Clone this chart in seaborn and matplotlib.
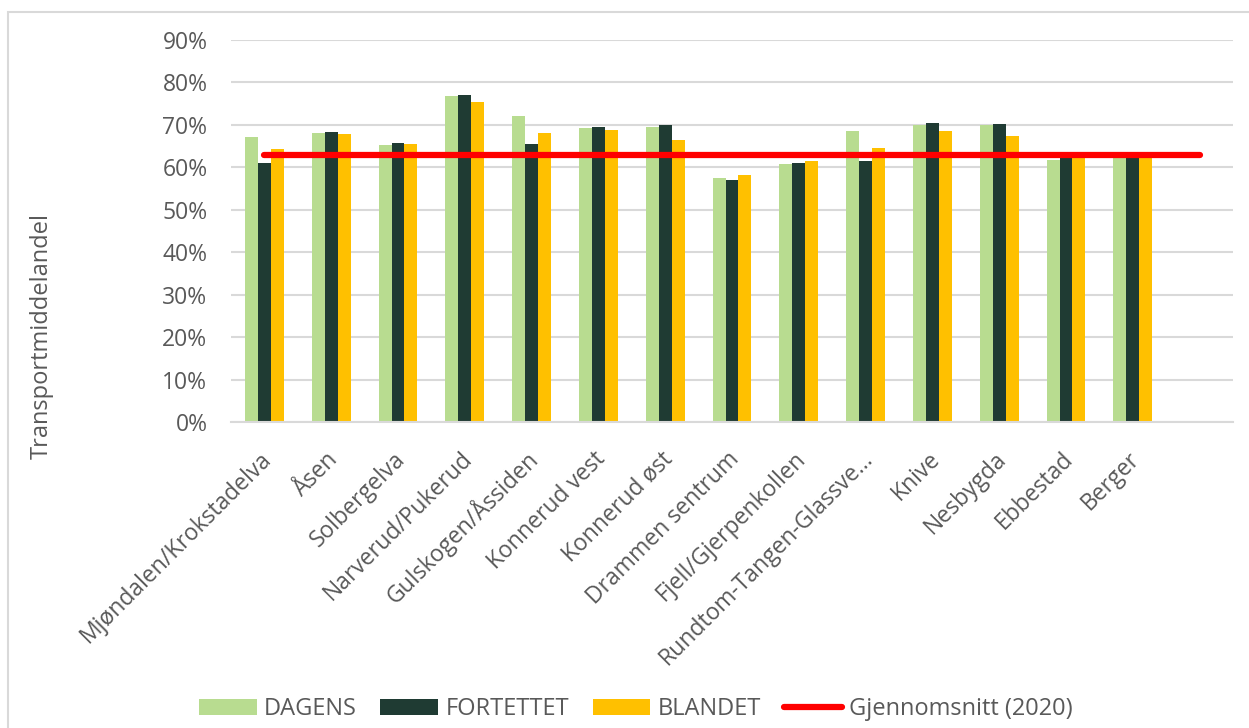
import numpy as np
import pandas as pd
import matplotlib
matplotlib.use("Agg")
import matplotlib.pyplot as plt
import matplotlib.transforms as mtransforms
import seaborn as sns
from matplotlib.patches import Rectangle
from matplotlib.ticker import PercentFormatter

categories = [
    "Mjøndalen/Krokstadelva", "Åsen", "Solbergelva", "Narverud/Pukerud",
    "Gulskogen/Åssiden", "Konnerud vest", "Konnerud øst", "Drammen sentrum",
    "Fjell/Gjerpenkollen", "Rundtom-Tangen-Glassve...", "Knive", "Nesbygda",
    "Ebbestad", "Berger",
]
# Excel keeps one empty slot at the end of the category axis
empty_slot = " "

dagens = [0.672, 0.681, 0.653, 0.768, 0.721, 0.693, 0.695, 0.576, 0.607, 0.686, 0.700, 0.700, 0.618, 0.628]
fortettet = [0.611, 0.684, 0.658, 0.770, 0.656, 0.695, 0.700, 0.569, 0.611, 0.616, 0.705, 0.703, 0.623, 0.635]
blandet = [0.644, 0.679, 0.656, 0.754, 0.681, 0.689, 0.665, 0.581, 0.614, 0.646, 0.686, 0.674, 0.625, 0.628]
gjennomsnitt = 0.628

series_names = ["DAGENS", "FORTETTET", "BLANDET"]
series_colors = ["#b8dc90", "#1f3b33", "#ffc000"]
avg_label = "Gjennomsnitt (2020)"
avg_color = "#ff0000"
text_color = "#595959"
grid_color = "#d9d9d9"

df = pd.DataFrame({
    "omrade": categories * 3,
    "serie": np.repeat(series_names, len(categories)),
    "andel": dagens + fortettet + blandet,
})
order = categories + [empty_slot]

sns.set_theme(style="white")
plt.rcParams["font.family"] = ["Open Sans", "DejaVu Sans"]

fig = plt.figure(figsize=(12.49, 7.28), dpi=100)
ax = fig.add_axes([231 / 1249, 1 - 422 / 728, (1233 - 231) / 1249, (422 - 40) / 728])

sns.barplot(data=df, x="omrade", y="andel", hue="serie", order=order,
            hue_order=series_names, palette=series_colors, width=0.58,
            gap=0, saturation=1, errorbar=None, linewidth=0, ax=ax,
            legend=False)

line_x = [0, len(order) - 1]
ax.plot(line_x, [gjennomsnitt, gjennomsnitt], color=avg_color, lw=4.5,
        solid_capstyle="round", zorder=5)

ax.set_xlim(-0.5, len(order) - 0.5)
ax.set_ylim(0, 0.9)
ax.set_yticks(np.arange(0, 0.91, 0.1))
ax.yaxis.set_major_formatter(PercentFormatter(1.0, decimals=0))
ax.grid(axis="y", color=grid_color, lw=1.5)
ax.set_axisbelow(True)
for side in ["top", "right", "left"]:
    ax.spines[side].set_visible(False)
ax.spines["bottom"].set_color(grid_color)
ax.spines["bottom"].set_linewidth(1.5)

ax.tick_params(axis="y", length=0, pad=17, labelsize=16.5, labelcolor=text_color)
ax.tick_params(axis="x", length=0, pad=0, labelsize=16.5, labelcolor=text_color)
ax.set_xticks(range(len(order)))
ax.set_xticklabels(order, rotation=45, ha="right", va="baseline",
                   rotation_mode="anchor")
# Excel puts the end of each slanted label a little right of and below the tick
shift = mtransforms.ScaledTranslation(0.08, -0.38, fig.dpi_scale_trans)
for lbl in ax.get_xticklabels():
    lbl.set_transform(lbl.get_transform() + shift)
ax.set_xlabel("")
ax.set_ylabel("")

fig.text(42 / 1249, 1 - 336 / 728, "Transportmiddelandel", rotation=90,
         ha="center", va="center", fontsize=17, color=text_color)

handles = [Rectangle((0, 0), 1, 1, color=c, lw=0) for c in series_colors]
handles.append(plt.Line2D([0], [0], color=avg_color, lw=4.5, solid_capstyle="round"))
fig.legend(handles, series_names + [avg_label], loc="center",
           bbox_to_anchor=(636 / 1249, 1 - 709 / 728), ncol=4, frameon=False,
           fontsize=17, labelcolor=text_color, handlelength=2.45,
           handleheight=0.64, handletextpad=0.3, columnspacing=1.0,
           borderpad=0, borderaxespad=0)

# light chart frame like the Excel chart area
fig.patches.append(Rectangle((8 / 1249, -0.1), 1.2, 1 - 12 / 728 + 0.1,
                             transform=fig.transFigure, fill=False,
                             edgecolor=grid_color, lw=1.5))

fig.savefig("out.png", dpi=100)
